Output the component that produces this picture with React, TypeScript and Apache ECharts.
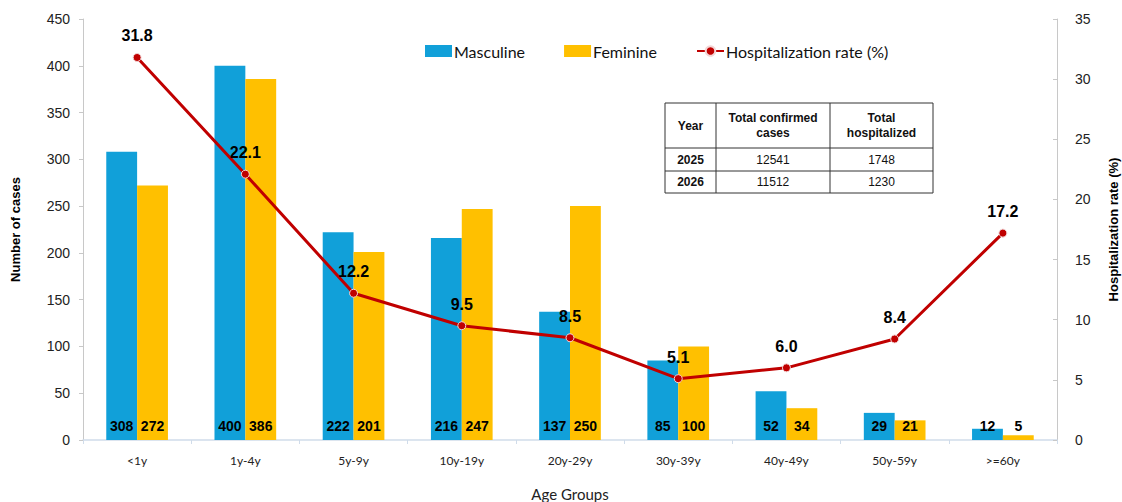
import React, { useEffect, useRef } from "react";
import * as echarts from "echarts";

const categories = ["<1y", "1y-4y", "5y-9y", "10y-19y", "20y-29y", "30y-39y", "40y-49y", "50y-59y", ">=60y"];
const masculine = [308, 400, 222, 216, 137, 85, 52, 29, 12];
const feminine = [272, 386, 201, 247, 250, 100, 34, 21, 5];
const hospRate = [31.8, 22.1, 12.2, 9.5, 8.5, 5.1, 6.0, 8.4, 17.2];

const tableHeader = ["Year", "Total confirmed\ncases", "Total\nhospitalized"];
const tableRows = [
  ["2025", "12541", "1748"],
  ["2026", "11512", "1230"],
];

export default function App() {
  const ref = useRef<HTMLDivElement>(null);
  useEffect(() => {
    if (!ref.current) return;
    const chart = echarts.init(ref.current, undefined, { renderer: "svg" });

    const tx = 665;
    const ty = 103;
    const colX = [0, 51, 165, 268];
    const rowY = [0, 45, 68, 90];
    const tableEls: any[] = [];
    tableEls.push({
      type: "rect",
      shape: { x: tx, y: ty, width: colX[3], height: rowY[3] },
      style: { fill: "#ffffff", stroke: "#333", lineWidth: 1 },
    });
    for (let i = 1; i < 3; i++) {
      tableEls.push({
        type: "line",
        shape: { x1: tx + colX[i], y1: ty, x2: tx + colX[i], y2: ty + rowY[3] },
        style: { stroke: "#333", lineWidth: 1 },
      });
      tableEls.push({
        type: "line",
        shape: { x1: tx, y1: ty + rowY[i], x2: tx + colX[3], y2: ty + rowY[i] },
        style: { stroke: "#333", lineWidth: 1 },
      });
    }
    tableHeader.forEach((h, c) => {
      tableEls.push({
        type: "text",
        x: tx + (colX[c] + colX[c + 1]) / 2,
        y: ty + rowY[1] / 2,
        style: {
          text: h,
          fontFamily: "Liberation Sans, Arial",
          fontSize: 12,
          fontWeight: "bold",
          fill: "#111",
          align: "center",
          verticalAlign: "middle",
          lineHeight: 15,
        },
      });
    });
    tableRows.forEach((row, r) => {
      row.forEach((v, c) => {
        tableEls.push({
          type: "text",
          x: tx + (colX[c] + colX[c + 1]) / 2,
          y: ty + (rowY[r + 1] + rowY[r + 2]) / 2,
          style: {
            text: v,
            fontFamily: "Liberation Sans, Arial",
            fontSize: 12,
            fontWeight: c === 0 ? "bold" : "normal",
            fill: "#111",
            align: "center",
            verticalAlign: "middle",
          },
        });
      });
    });

    const barLabel = {
      show: true,
      position: "insideBottom",
      distance: 7,
      fontFamily: "Liberation Sans, Arial",
      fontSize: 14,
      fontWeight: "bold",
      color: "#000",
    };

    chart.setOption({
      animation: false,
      backgroundColor: "#ffffff",
      textStyle: { fontFamily: "Liberation Sans, Arial" },
      legend: {
        top: 38,
        left: 420,
        itemWidth: 27,
        itemHeight: 12,
        itemGap: 39,
        textStyle: { fontFamily: "Lato, Open Sans", fontSize: 16, color: "#111", padding: [0, 0, 0, -3] },
        data: [
          { name: "Masculine", icon: "rect" },
          { name: "Feminine", icon: "rect" },
          { name: "Hospitalization rate (%)" },
        ],
      },
      grid: { left: 83, right: 65, top: 19, bottom: 62, outerBoundsMode: "none", containLabel: false },
      xAxis: {
        type: "category",
        data: categories,
        name: "Age Groups",
        nameLocation: "middle",
        nameGap: 46,
        nameTextStyle: { fontFamily: "Lato, Open Sans", fontSize: 15, color: "#222" },
        axisLine: { lineStyle: { color: "#d0dcea", width: 1.5 } },
        axisTick: { show: true, alignWithLabel: false, length: 4, lineStyle: { color: "#d0dcea" } },
        axisLabel: { fontFamily: "Lato, Open Sans", fontSize: 12, color: "#222", margin: 14 },
      },
      yAxis: [
        {
          type: "value",
          min: 0,
          max: 450,
          interval: 50,
          name: "Number of cases",
          nameLocation: "middle",
          nameGap: 61,
          nameTextStyle: { fontFamily: "Liberation Sans, Arial", fontSize: 13, fontWeight: "bold", color: "#000" },
          axisLine: { show: true, lineStyle: { color: "#c8c8c8" } },
          axisTick: { show: true, length: 4, lineStyle: { color: "#c8c8c8" } },
          axisLabel: { fontFamily: "Liberation Sans, Arial", fontSize: 14, color: "#222", margin: 13 },
          splitLine: { show: false },
        },
        {
          type: "value",
          min: 0,
          max: 35,
          interval: 5,
          name: "Hospitalization rate (%)",
          nameLocation: "middle",
          nameGap: 50,
          nameRotate: 90,
          nameTextStyle: { fontFamily: "Liberation Sans, Arial", fontSize: 13, fontWeight: "bold", color: "#000" },
          axisLine: { show: true, lineStyle: { color: "#c8c8c8" } },
          axisTick: { show: true, inside: true, length: 4, lineStyle: { color: "#c8c8c8" } },
          axisLabel: { fontFamily: "Liberation Sans, Arial", fontSize: 14, color: "#222", margin: 18 },
          splitLine: { show: false },
        },
      ],
      series: [
        {
          name: "Masculine",
          type: "bar",
          data: masculine,
          barGap: "0%",
          barCategoryGap: "43%",
          itemStyle: { color: "#11a0d9" },
          label: barLabel,
        },
        {
          name: "Feminine",
          type: "bar",
          data: feminine,
          itemStyle: { color: "#ffc000" },
          label: barLabel,
        },
        {
          name: "Hospitalization rate (%)",
          type: "line",
          yAxisIndex: 1,
          data: hospRate,
          symbol: "circle",
          symbolSize: 8,
          lineStyle: { color: "#c00000", width: 3 },
          itemStyle: { color: "#c00000", borderColor: "#f3d6d6", borderWidth: 1 },
          label: {
            show: true,
            position: "top",
            distance: 9,
            formatter: (p: any) => Number(p.value).toFixed(1),
            fontFamily: "Liberation Sans, Arial",
            fontSize: 16,
            fontWeight: "bold",
            color: "#000",
          },
          z: 5,
        },
      ],
      graphic: tableEls,
    });
    return () => chart.dispose();
  }, []);
  return <div ref={ref} style={{ width: 1122, height: 502, position: "absolute", left: 0, top: 0 }} />;
}
